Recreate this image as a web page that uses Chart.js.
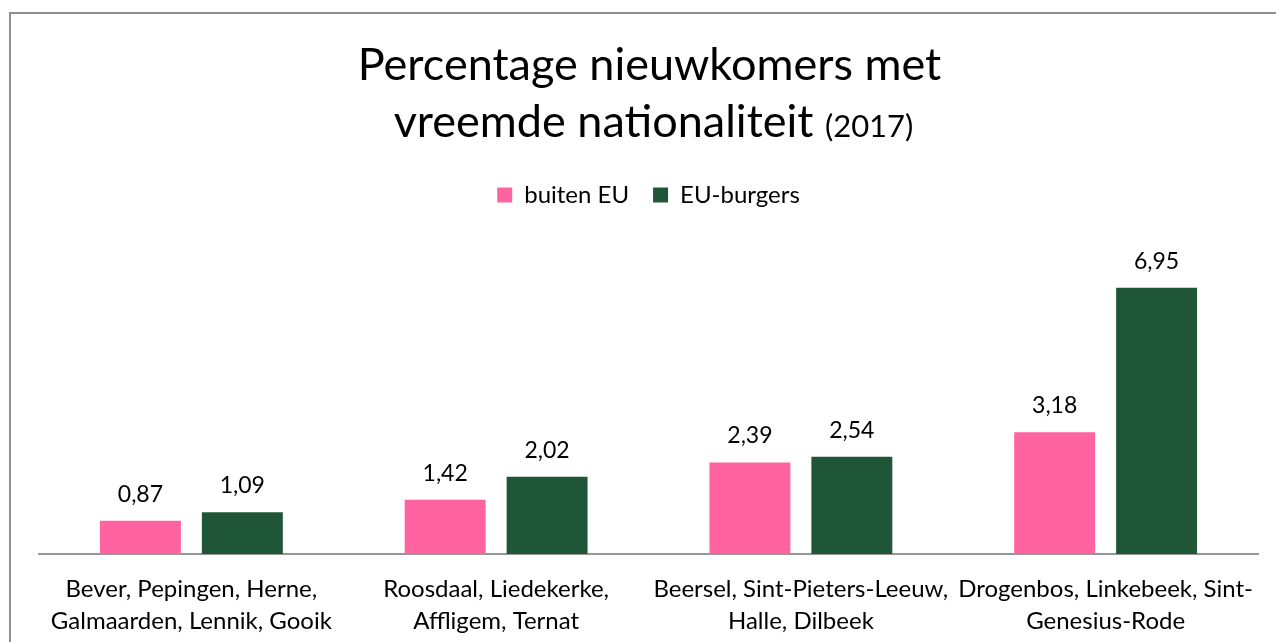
<!DOCTYPE html>
<html>
<head>
<meta charset="utf-8">
<script src="https://cdn.jsdelivr.net/npm/chart.js@4.4.1/dist/chart.umd.min.js"></script>
<style>
  html, body { margin: 0; padding: 0; background: #fff; }
  #wrap { width: 1276px; height: 642px; }
</style>
</head>
<body>
<div id="wrap"><canvas id="nieuwkomers"></canvas></div>
<script>
const categories = [
  ["Bever, Pepingen, Herne,", "Galmaarden, Lennik, Gooik"],
  ["Roosdaal, Liedekerke,", "Affligem, Ternat"],
  ["Beersel, Sint-Pieters-Leeuw,", "Halle, Dilbeek"],
  ["Drogenbos, Linkebeek, Sint-", "Genesius-Rode"]
];
const buitenEU = [0.87, 1.42, 2.39, 3.18];
const euBurgers = [1.09, 2.02, 2.54, 6.95];

const FONT = "Lato";

// grey frame (top + left edge of the Excel chart box)
const framePlugin = {
  id: "frame",
  beforeDraw(chart) {
    const ctx = chart.ctx;
    ctx.save();
    ctx.strokeStyle = "#8e8e8e";
    ctx.lineWidth = 2;
    ctx.beginPath();
    ctx.moveTo(10, chart.height);
    ctx.lineTo(10, 13);
    ctx.lineTo(chart.width, 13);
    ctx.stroke();
    ctx.restore();
  }
};

// two-line title, "(2017)" smaller
const titlePlugin = {
  id: "bigTitle",
  afterDraw(chart) {
    const ctx = chart.ctx;
    const cx = (chart.chartArea.left + chart.chartArea.right) / 2 + 1;
    ctx.save();
    ctx.fillStyle = "#000";
    ctx.textBaseline = "alphabetic";
    ctx.textAlign = "left";
    ctx.font = "45px " + FONT;
    const l1 = "Percentage nieuwkomers met";
    const w1 = ctx.measureText(l1).width;
    ctx.fillText(l1, cx - w1 / 2, 80);
    const a = "vreemde nationaliteit ";
    const wa = ctx.measureText(a).width;
    ctx.font = "31px " + FONT;
    const b = "(2017)";
    const wb = ctx.measureText(b).width;
    const x0 = cx + 4 - (wa + wb) / 2;
    ctx.font = "45px " + FONT;
    ctx.fillText(a, x0, 137);
    ctx.font = "31px " + FONT;
    ctx.fillText(b, x0 + wa, 137);
    ctx.restore();
  }
};

// value labels above bars, decimal comma
const valuePlugin = {
  id: "values",
  afterDatasetsDraw(chart) {
    const ctx = chart.ctx;
    ctx.save();
    ctx.font = "23px " + FONT;
    ctx.fillStyle = "#000";
    ctx.textAlign = "center";
    ctx.textBaseline = "alphabetic";
    chart.data.datasets.forEach((ds, i) => {
      chart.getDatasetMeta(i).data.forEach((bar, j) => {
        const txt = ds.data[j].toFixed(2).replace(".", ",");
        ctx.fillText(txt, bar.x, bar.y - 19);
      });
    });
    ctx.restore();
  }
};

const data_nk = {
  labels: categories,
  datasets: [
    {
      label: "buiten EU",
      data: buitenEU,
      backgroundColor: "#ff63a0",
      categoryPercentage: 0.669,
      barPercentage: 0.794,
    },
    {
      label: "EU-burgers",
      data: euBurgers,
      backgroundColor: "#205638",
      categoryPercentage: 0.669,
      barPercentage: 0.794,
    },
  ],
};

const config_nk = {
  type: "bar",
  data: data_nk,
  options: {
    responsive: true,
    maintainAspectRatio: false,
    animation: false,
    layout: {
      padding: { left: 39, right: 18, top: 159, bottom: -14 },
    },
    scales: {
      x: {
        grid: { display: false, drawTicks: false },
        border: { display: true, color: "#969696", width: 2 },
        ticks: {
          color: "#000",
          font: { family: FONT, size: 24, lineHeight: 1.333 },
          padding: 19,
          maxRotation: 0,
          minRotation: 0,
          autoSkip: false,
        },
      },
      y: {
        display: false,
        min: 0,
        max: 8.8,
      },
    },
    plugins: {
      title: { display: false },
      tooltip: { enabled: false },
      legend: {
        display: true,
        position: "top",
        labels: {
          color: "#000",
          font: { family: FONT, size: 24 },
          boxWidth: 15,
          boxHeight: 15,
          padding: 24,
        },
      },
    },
  },
  plugins: [framePlugin, titlePlugin, valuePlugin],
};

const nk = new Chart(document.getElementById("nieuwkomers"), config_nk);
</script>
</body>
</html>
